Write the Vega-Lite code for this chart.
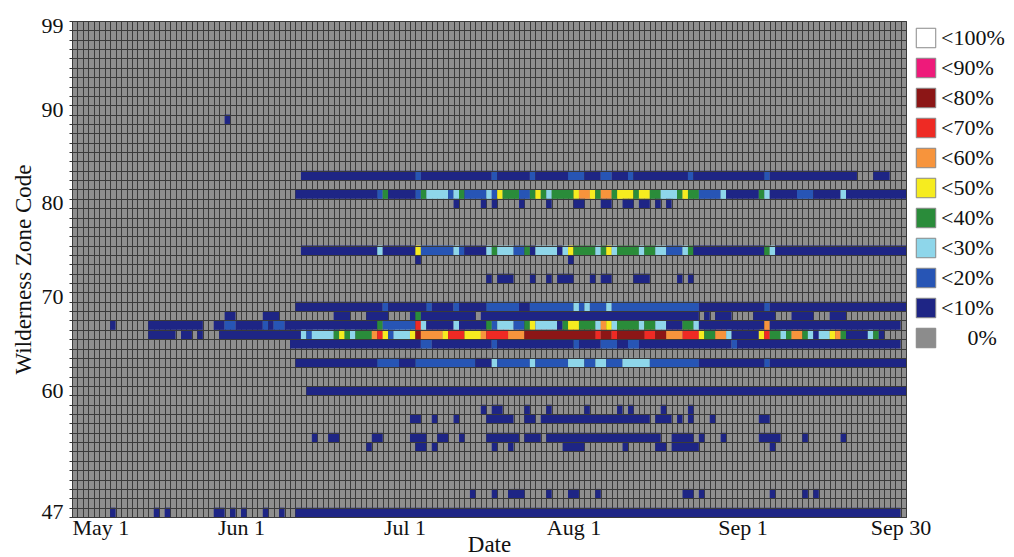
{
"$schema": "https://vega.github.io/schema/vega-lite/v6.json",
"width": 834, "height": 496,
"autosize": {"type": "none"},
"padding": {"left": 72, "top": 21, "right": 108, "bottom": 40},
"background": "white",
"config": {"view": {"fill": "#8e8e8e", "stroke": "#444", "strokeWidth": 1}, "font": "Liberation Serif"},
"data": {"values": [
{"z":89,"s":"2013-05-29","e":"2013-05-30","v":"<10%"},
{"z":83,"s":"2013-06-12","e":"2013-07-03","v":"<10%"},
{"z":83,"s":"2013-07-03","e":"2013-07-04","v":"<20%"},
{"z":83,"s":"2013-07-04","e":"2013-07-17","v":"<10%"},
{"z":83,"s":"2013-07-17","e":"2013-07-18","v":"<20%"},
{"z":83,"s":"2013-07-18","e":"2013-07-24","v":"<10%"},
{"z":83,"s":"2013-07-24","e":"2013-07-25","v":"<20%"},
{"z":83,"s":"2013-07-25","e":"2013-07-31","v":"<10%"},
{"z":83,"s":"2013-07-31","e":"2013-08-03","v":"<20%"},
{"z":83,"s":"2013-08-03","e":"2013-08-06","v":"<10%"},
{"z":83,"s":"2013-08-06","e":"2013-08-08","v":"<20%"},
{"z":83,"s":"2013-08-08","e":"2013-08-11","v":"<10%"},
{"z":83,"s":"2013-08-11","e":"2013-08-12","v":"<20%"},
{"z":83,"s":"2013-08-12","e":"2013-08-22","v":"<10%"},
{"z":83,"s":"2013-08-22","e":"2013-08-23","v":"<20%"},
{"z":83,"s":"2013-08-23","e":"2013-09-05","v":"<10%"},
{"z":83,"s":"2013-09-05","e":"2013-09-06","v":"<20%"},
{"z":83,"s":"2013-09-06","e":"2013-09-22","v":"<10%"},
{"z":83,"s":"2013-09-25","e":"2013-09-28","v":"<10%"},
{"z":81,"s":"2013-06-11","e":"2013-06-26","v":"<10%"},
{"z":81,"s":"2013-06-26","e":"2013-06-27","v":"<20%"},
{"z":81,"s":"2013-06-27","e":"2013-06-28","v":"<40%"},
{"z":81,"s":"2013-06-28","e":"2013-07-03","v":"<10%"},
{"z":81,"s":"2013-07-03","e":"2013-07-04","v":"<20%"},
{"z":81,"s":"2013-07-04","e":"2013-07-05","v":"<40%"},
{"z":81,"s":"2013-07-05","e":"2013-07-09","v":"<30%"},
{"z":81,"s":"2013-07-09","e":"2013-07-10","v":"<20%"},
{"z":81,"s":"2013-07-10","e":"2013-07-11","v":"<30%"},
{"z":81,"s":"2013-07-11","e":"2013-07-12","v":"<40%"},
{"z":81,"s":"2013-07-12","e":"2013-07-16","v":"<20%"},
{"z":81,"s":"2013-07-16","e":"2013-07-17","v":"<30%"},
{"z":81,"s":"2013-07-17","e":"2013-07-18","v":"<20%"},
{"z":81,"s":"2013-07-18","e":"2013-07-19","v":"<50%"},
{"z":81,"s":"2013-07-19","e":"2013-07-22","v":"<40%"},
{"z":81,"s":"2013-07-22","e":"2013-07-24","v":"<20%"},
{"z":81,"s":"2013-07-24","e":"2013-07-25","v":"<40%"},
{"z":81,"s":"2013-07-25","e":"2013-07-26","v":"<50%"},
{"z":81,"s":"2013-07-26","e":"2013-07-27","v":"<40%"},
{"z":81,"s":"2013-07-27","e":"2013-07-28","v":"<30%"},
{"z":81,"s":"2013-07-28","e":"2013-08-01","v":"<40%"},
{"z":81,"s":"2013-08-01","e":"2013-08-02","v":"<50%"},
{"z":81,"s":"2013-08-02","e":"2013-08-04","v":"<60%"},
{"z":81,"s":"2013-08-04","e":"2013-08-05","v":"<50%"},
{"z":81,"s":"2013-08-05","e":"2013-08-06","v":"<40%"},
{"z":81,"s":"2013-08-06","e":"2013-08-08","v":"<60%"},
{"z":81,"s":"2013-08-08","e":"2013-08-09","v":"<40%"},
{"z":81,"s":"2013-08-09","e":"2013-08-12","v":"<50%"},
{"z":81,"s":"2013-08-12","e":"2013-08-13","v":"<40%"},
{"z":81,"s":"2013-08-13","e":"2013-08-15","v":"<50%"},
{"z":81,"s":"2013-08-15","e":"2013-08-17","v":"<40%"},
{"z":81,"s":"2013-08-17","e":"2013-08-20","v":"<30%"},
{"z":81,"s":"2013-08-20","e":"2013-08-21","v":"<40%"},
{"z":81,"s":"2013-08-21","e":"2013-08-22","v":"<50%"},
{"z":81,"s":"2013-08-22","e":"2013-08-24","v":"<40%"},
{"z":81,"s":"2013-08-24","e":"2013-08-28","v":"<20%"},
{"z":81,"s":"2013-08-28","e":"2013-08-29","v":"<30%"},
{"z":81,"s":"2013-08-29","e":"2013-09-04","v":"<10%"},
{"z":81,"s":"2013-09-04","e":"2013-09-05","v":"<40%"},
{"z":81,"s":"2013-09-05","e":"2013-09-06","v":"<30%"},
{"z":81,"s":"2013-09-06","e":"2013-09-11","v":"<10%"},
{"z":81,"s":"2013-09-11","e":"2013-09-14","v":"<20%"},
{"z":81,"s":"2013-09-14","e":"2013-09-19","v":"<10%"},
{"z":81,"s":"2013-09-19","e":"2013-09-20","v":"<30%"},
{"z":81,"s":"2013-09-20","e":"2013-10-01","v":"<10%"},
{"z":80,"s":"2013-07-10","e":"2013-07-11","v":"<10%"},
{"z":80,"s":"2013-07-15","e":"2013-07-16","v":"<10%"},
{"z":80,"s":"2013-07-17","e":"2013-07-18","v":"<10%"},
{"z":80,"s":"2013-07-22","e":"2013-07-23","v":"<10%"},
{"z":80,"s":"2013-07-27","e":"2013-07-28","v":"<10%"},
{"z":80,"s":"2013-08-01","e":"2013-08-03","v":"<10%"},
{"z":80,"s":"2013-08-06","e":"2013-08-08","v":"<10%"},
{"z":80,"s":"2013-08-10","e":"2013-08-12","v":"<10%"},
{"z":80,"s":"2013-08-13","e":"2013-08-15","v":"<10%"},
{"z":80,"s":"2013-08-16","e":"2013-08-17","v":"<10%"},
{"z":80,"s":"2013-08-18","e":"2013-08-19","v":"<10%"},
{"z":75,"s":"2013-06-12","e":"2013-06-26","v":"<10%"},
{"z":75,"s":"2013-06-26","e":"2013-06-27","v":"<30%"},
{"z":75,"s":"2013-06-27","e":"2013-07-03","v":"<10%"},
{"z":75,"s":"2013-07-03","e":"2013-07-04","v":"<50%"},
{"z":75,"s":"2013-07-04","e":"2013-07-10","v":"<20%"},
{"z":75,"s":"2013-07-10","e":"2013-07-11","v":"<30%"},
{"z":75,"s":"2013-07-11","e":"2013-07-12","v":"<20%"},
{"z":75,"s":"2013-07-12","e":"2013-07-16","v":"<10%"},
{"z":75,"s":"2013-07-16","e":"2013-07-17","v":"<30%"},
{"z":75,"s":"2013-07-17","e":"2013-07-18","v":"<40%"},
{"z":75,"s":"2013-07-18","e":"2013-07-21","v":"<30%"},
{"z":75,"s":"2013-07-21","e":"2013-07-23","v":"<20%"},
{"z":75,"s":"2013-07-23","e":"2013-07-24","v":"<40%"},
{"z":75,"s":"2013-07-24","e":"2013-07-25","v":"<10%"},
{"z":75,"s":"2013-07-25","e":"2013-07-29","v":"<30%"},
{"z":75,"s":"2013-07-29","e":"2013-07-30","v":"<10%"},
{"z":75,"s":"2013-07-30","e":"2013-07-31","v":"<30%"},
{"z":75,"s":"2013-07-31","e":"2013-08-01","v":"<50%"},
{"z":75,"s":"2013-08-01","e":"2013-08-05","v":"<40%"},
{"z":75,"s":"2013-08-05","e":"2013-08-06","v":"<30%"},
{"z":75,"s":"2013-08-06","e":"2013-08-07","v":"<40%"},
{"z":75,"s":"2013-08-07","e":"2013-08-08","v":"<50%"},
{"z":75,"s":"2013-08-08","e":"2013-08-09","v":"<30%"},
{"z":75,"s":"2013-08-09","e":"2013-08-13","v":"<40%"},
{"z":75,"s":"2013-08-13","e":"2013-08-14","v":"<30%"},
{"z":75,"s":"2013-08-14","e":"2013-08-16","v":"<40%"},
{"z":75,"s":"2013-08-16","e":"2013-08-18","v":"<30%"},
{"z":75,"s":"2013-08-18","e":"2013-08-21","v":"<20%"},
{"z":75,"s":"2013-08-21","e":"2013-08-22","v":"<30%"},
{"z":75,"s":"2013-08-22","e":"2013-08-23","v":"<40%"},
{"z":75,"s":"2013-08-23","e":"2013-09-05","v":"<10%"},
{"z":75,"s":"2013-09-05","e":"2013-09-06","v":"<40%"},
{"z":75,"s":"2013-09-06","e":"2013-09-07","v":"<30%"},
{"z":75,"s":"2013-09-07","e":"2013-10-01","v":"<10%"},
{"z":74,"s":"2013-07-03","e":"2013-07-04","v":"<10%"},
{"z":74,"s":"2013-07-31","e":"2013-08-01","v":"<10%"},
{"z":72,"s":"2013-07-16","e":"2013-07-17","v":"<10%"},
{"z":72,"s":"2013-07-18","e":"2013-07-21","v":"<10%"},
{"z":72,"s":"2013-07-24","e":"2013-07-25","v":"<10%"},
{"z":72,"s":"2013-07-27","e":"2013-07-28","v":"<10%"},
{"z":72,"s":"2013-07-29","e":"2013-08-01","v":"<10%"},
{"z":72,"s":"2013-08-04","e":"2013-08-05","v":"<10%"},
{"z":72,"s":"2013-08-06","e":"2013-08-08","v":"<10%"},
{"z":72,"s":"2013-08-12","e":"2013-08-15","v":"<10%"},
{"z":72,"s":"2013-08-20","e":"2013-08-21","v":"<10%"},
{"z":72,"s":"2013-08-22","e":"2013-08-23","v":"<10%"},
{"z":69,"s":"2013-06-11","e":"2013-06-27","v":"<10%"},
{"z":69,"s":"2013-06-27","e":"2013-06-28","v":"<20%"},
{"z":69,"s":"2013-06-28","e":"2013-07-05","v":"<10%"},
{"z":69,"s":"2013-07-05","e":"2013-07-06","v":"<20%"},
{"z":69,"s":"2013-07-06","e":"2013-07-10","v":"<10%"},
{"z":69,"s":"2013-07-10","e":"2013-07-11","v":"<20%"},
{"z":69,"s":"2013-07-11","e":"2013-07-16","v":"<10%"},
{"z":69,"s":"2013-07-16","e":"2013-07-22","v":"<20%"},
{"z":69,"s":"2013-07-22","e":"2013-07-24","v":"<10%"},
{"z":69,"s":"2013-07-24","e":"2013-08-01","v":"<20%"},
{"z":69,"s":"2013-08-01","e":"2013-08-02","v":"<30%"},
{"z":69,"s":"2013-08-02","e":"2013-08-03","v":"<20%"},
{"z":69,"s":"2013-08-03","e":"2013-08-04","v":"<30%"},
{"z":69,"s":"2013-08-04","e":"2013-08-07","v":"<20%"},
{"z":69,"s":"2013-08-07","e":"2013-08-08","v":"<30%"},
{"z":69,"s":"2013-08-08","e":"2013-08-24","v":"<20%"},
{"z":69,"s":"2013-08-24","e":"2013-09-05","v":"<10%"},
{"z":69,"s":"2013-09-05","e":"2013-09-06","v":"<20%"},
{"z":69,"s":"2013-09-06","e":"2013-10-01","v":"<10%"},
{"z":68,"s":"2013-05-29","e":"2013-05-31","v":"<10%"},
{"z":68,"s":"2013-06-05","e":"2013-06-08","v":"<10%"},
{"z":68,"s":"2013-06-18","e":"2013-06-21","v":"<10%"},
{"z":68,"s":"2013-06-24","e":"2013-06-28","v":"<10%"},
{"z":68,"s":"2013-07-02","e":"2013-07-03","v":"<10%"},
{"z":68,"s":"2013-07-03","e":"2013-07-04","v":"<40%"},
{"z":68,"s":"2013-07-04","e":"2013-07-14","v":"<10%"},
{"z":68,"s":"2013-07-15","e":"2013-08-24","v":"<10%"},
{"z":68,"s":"2013-08-25","e":"2013-08-26","v":"<10%"},
{"z":68,"s":"2013-08-27","e":"2013-08-30","v":"<10%"},
{"z":68,"s":"2013-09-03","e":"2013-09-07","v":"<10%"},
{"z":68,"s":"2013-09-10","e":"2013-09-14","v":"<10%"},
{"z":68,"s":"2013-09-17","e":"2013-09-20","v":"<10%"},
{"z":67,"s":"2013-05-08","e":"2013-05-09","v":"<10%"},
{"z":67,"s":"2013-05-15","e":"2013-05-25","v":"<10%"},
{"z":67,"s":"2013-05-27","e":"2013-05-29","v":"<10%"},
{"z":67,"s":"2013-05-29","e":"2013-05-31","v":"<20%"},
{"z":67,"s":"2013-05-31","e":"2013-06-05","v":"<10%"},
{"z":67,"s":"2013-06-05","e":"2013-06-06","v":"<20%"},
{"z":67,"s":"2013-06-06","e":"2013-06-07","v":"<10%"},
{"z":67,"s":"2013-06-07","e":"2013-06-09","v":"<20%"},
{"z":67,"s":"2013-06-09","e":"2013-06-26","v":"<10%"},
{"z":67,"s":"2013-06-26","e":"2013-06-27","v":"<40%"},
{"z":67,"s":"2013-06-27","e":"2013-07-03","v":"<20%"},
{"z":67,"s":"2013-07-03","e":"2013-07-04","v":"<70%"},
{"z":67,"s":"2013-07-04","e":"2013-07-05","v":"<30%"},
{"z":67,"s":"2013-07-05","e":"2013-07-10","v":"<10%"},
{"z":67,"s":"2013-07-10","e":"2013-07-11","v":"<30%"},
{"z":67,"s":"2013-07-11","e":"2013-07-16","v":"<10%"},
{"z":67,"s":"2013-07-16","e":"2013-07-17","v":"<40%"},
{"z":67,"s":"2013-07-17","e":"2013-07-18","v":"<20%"},
{"z":67,"s":"2013-07-18","e":"2013-07-21","v":"<30%"},
{"z":67,"s":"2013-07-21","e":"2013-07-23","v":"<20%"},
{"z":67,"s":"2013-07-23","e":"2013-07-24","v":"<40%"},
{"z":67,"s":"2013-07-24","e":"2013-07-25","v":"<50%"},
{"z":67,"s":"2013-07-25","e":"2013-07-29","v":"<30%"},
{"z":67,"s":"2013-07-29","e":"2013-07-30","v":"<10%"},
{"z":67,"s":"2013-07-30","e":"2013-07-31","v":"<40%"},
{"z":67,"s":"2013-07-31","e":"2013-08-02","v":"<50%"},
{"z":67,"s":"2013-08-02","e":"2013-08-05","v":"<40%"},
{"z":67,"s":"2013-08-05","e":"2013-08-06","v":"<30%"},
{"z":67,"s":"2013-08-06","e":"2013-08-07","v":"<60%"},
{"z":67,"s":"2013-08-07","e":"2013-08-08","v":"<50%"},
{"z":67,"s":"2013-08-08","e":"2013-08-09","v":"<30%"},
{"z":67,"s":"2013-08-09","e":"2013-08-13","v":"<40%"},
{"z":67,"s":"2013-08-13","e":"2013-08-14","v":"<30%"},
{"z":67,"s":"2013-08-14","e":"2013-08-16","v":"<40%"},
{"z":67,"s":"2013-08-16","e":"2013-08-18","v":"<30%"},
{"z":67,"s":"2013-08-18","e":"2013-08-21","v":"<10%"},
{"z":67,"s":"2013-08-21","e":"2013-08-23","v":"<40%"},
{"z":67,"s":"2013-08-23","e":"2013-08-24","v":"<30%"},
{"z":67,"s":"2013-08-24","e":"2013-09-05","v":"<10%"},
{"z":67,"s":"2013-09-05","e":"2013-09-06","v":"<60%"},
{"z":67,"s":"2013-09-06","e":"2013-09-30","v":"<10%"},
{"z":66,"s":"2013-05-15","e":"2013-05-20","v":"<10%"},
{"z":66,"s":"2013-05-21","e":"2013-05-23","v":"<10%"},
{"z":66,"s":"2013-05-24","e":"2013-05-25","v":"<10%"},
{"z":66,"s":"2013-05-28","e":"2013-06-12","v":"<10%"},
{"z":66,"s":"2013-06-12","e":"2013-06-13","v":"<30%"},
{"z":66,"s":"2013-06-13","e":"2013-06-14","v":"<20%"},
{"z":66,"s":"2013-06-14","e":"2013-06-18","v":"<30%"},
{"z":66,"s":"2013-06-18","e":"2013-06-19","v":"<40%"},
{"z":66,"s":"2013-06-19","e":"2013-06-20","v":"<50%"},
{"z":66,"s":"2013-06-20","e":"2013-06-21","v":"<40%"},
{"z":66,"s":"2013-06-21","e":"2013-06-22","v":"<30%"},
{"z":66,"s":"2013-06-22","e":"2013-06-25","v":"<40%"},
{"z":66,"s":"2013-06-25","e":"2013-06-26","v":"<60%"},
{"z":66,"s":"2013-06-26","e":"2013-06-27","v":"<70%"},
{"z":66,"s":"2013-06-27","e":"2013-06-28","v":"<50%"},
{"z":66,"s":"2013-06-28","e":"2013-06-29","v":"<20%"},
{"z":66,"s":"2013-06-29","e":"2013-07-02","v":"<30%"},
{"z":66,"s":"2013-07-02","e":"2013-07-03","v":"<50%"},
{"z":66,"s":"2013-07-03","e":"2013-07-04","v":"<80%"},
{"z":66,"s":"2013-07-04","e":"2013-07-08","v":"<60%"},
{"z":66,"s":"2013-07-08","e":"2013-07-09","v":"<50%"},
{"z":66,"s":"2013-07-09","e":"2013-07-12","v":"<70%"},
{"z":66,"s":"2013-07-12","e":"2013-07-15","v":"<50%"},
{"z":66,"s":"2013-07-15","e":"2013-07-16","v":"<60%"},
{"z":66,"s":"2013-07-16","e":"2013-07-20","v":"<70%"},
{"z":66,"s":"2013-07-20","e":"2013-07-23","v":"<60%"},
{"z":66,"s":"2013-07-23","e":"2013-08-05","v":"<80%"},
{"z":66,"s":"2013-08-05","e":"2013-08-06","v":"<70%"},
{"z":66,"s":"2013-08-06","e":"2013-08-08","v":"<80%"},
{"z":66,"s":"2013-08-08","e":"2013-08-09","v":"<70%"},
{"z":66,"s":"2013-08-09","e":"2013-08-14","v":"<80%"},
{"z":66,"s":"2013-08-14","e":"2013-08-16","v":"<70%"},
{"z":66,"s":"2013-08-16","e":"2013-08-18","v":"<80%"},
{"z":66,"s":"2013-08-18","e":"2013-08-21","v":"<60%"},
{"z":66,"s":"2013-08-21","e":"2013-08-24","v":"<70%"},
{"z":66,"s":"2013-08-24","e":"2013-08-25","v":"<50%"},
{"z":66,"s":"2013-08-25","e":"2013-08-27","v":"<40%"},
{"z":66,"s":"2013-08-27","e":"2013-08-29","v":"<60%"},
{"z":66,"s":"2013-08-29","e":"2013-08-30","v":"<30%"},
{"z":66,"s":"2013-08-30","e":"2013-09-04","v":"<10%"},
{"z":66,"s":"2013-09-04","e":"2013-09-05","v":"<50%"},
{"z":66,"s":"2013-09-05","e":"2013-09-06","v":"<70%"},
{"z":66,"s":"2013-09-06","e":"2013-09-08","v":"<40%"},
{"z":66,"s":"2013-09-08","e":"2013-09-09","v":"<30%"},
{"z":66,"s":"2013-09-09","e":"2013-09-10","v":"<40%"},
{"z":66,"s":"2013-09-10","e":"2013-09-12","v":"<60%"},
{"z":66,"s":"2013-09-12","e":"2013-09-13","v":"<40%"},
{"z":66,"s":"2013-09-13","e":"2013-09-14","v":"<30%"},
{"z":66,"s":"2013-09-14","e":"2013-09-15","v":"<10%"},
{"z":66,"s":"2013-09-15","e":"2013-09-17","v":"<30%"},
{"z":66,"s":"2013-09-17","e":"2013-09-18","v":"<50%"},
{"z":66,"s":"2013-09-18","e":"2013-09-19","v":"<60%"},
{"z":66,"s":"2013-09-19","e":"2013-09-20","v":"<40%"},
{"z":66,"s":"2013-09-20","e":"2013-09-24","v":"<10%"},
{"z":66,"s":"2013-09-24","e":"2013-09-25","v":"<30%"},
{"z":66,"s":"2013-09-25","e":"2013-09-26","v":"<40%"},
{"z":66,"s":"2013-09-26","e":"2013-09-27","v":"<10%"},
{"z":65,"s":"2013-06-10","e":"2013-07-04","v":"<10%"},
{"z":65,"s":"2013-07-04","e":"2013-07-06","v":"<20%"},
{"z":65,"s":"2013-07-06","e":"2013-07-17","v":"<10%"},
{"z":65,"s":"2013-07-17","e":"2013-07-18","v":"<20%"},
{"z":65,"s":"2013-07-18","e":"2013-08-01","v":"<10%"},
{"z":65,"s":"2013-08-01","e":"2013-08-02","v":"<20%"},
{"z":65,"s":"2013-08-02","e":"2013-08-06","v":"<10%"},
{"z":65,"s":"2013-08-06","e":"2013-08-09","v":"<20%"},
{"z":65,"s":"2013-08-09","e":"2013-08-11","v":"<10%"},
{"z":65,"s":"2013-08-11","e":"2013-08-13","v":"<20%"},
{"z":65,"s":"2013-08-13","e":"2013-08-30","v":"<10%"},
{"z":65,"s":"2013-08-30","e":"2013-08-31","v":"<20%"},
{"z":65,"s":"2013-08-31","e":"2013-09-30","v":"<10%"},
{"z":63,"s":"2013-06-11","e":"2013-06-26","v":"<10%"},
{"z":63,"s":"2013-06-26","e":"2013-06-30","v":"<20%"},
{"z":63,"s":"2013-06-30","e":"2013-07-03","v":"<10%"},
{"z":63,"s":"2013-07-03","e":"2013-07-14","v":"<20%"},
{"z":63,"s":"2013-07-14","e":"2013-07-17","v":"<10%"},
{"z":63,"s":"2013-07-17","e":"2013-07-18","v":"<30%"},
{"z":63,"s":"2013-07-18","e":"2013-07-24","v":"<20%"},
{"z":63,"s":"2013-07-24","e":"2013-07-25","v":"<30%"},
{"z":63,"s":"2013-07-25","e":"2013-07-31","v":"<20%"},
{"z":63,"s":"2013-07-31","e":"2013-08-03","v":"<30%"},
{"z":63,"s":"2013-08-03","e":"2013-08-05","v":"<20%"},
{"z":63,"s":"2013-08-05","e":"2013-08-07","v":"<30%"},
{"z":63,"s":"2013-08-07","e":"2013-08-10","v":"<20%"},
{"z":63,"s":"2013-08-10","e":"2013-08-15","v":"<30%"},
{"z":63,"s":"2013-08-15","e":"2013-08-24","v":"<20%"},
{"z":63,"s":"2013-08-24","e":"2013-09-05","v":"<10%"},
{"z":63,"s":"2013-09-05","e":"2013-09-06","v":"<20%"},
{"z":63,"s":"2013-09-06","e":"2013-10-01","v":"<10%"},
{"z":60,"s":"2013-06-13","e":"2013-10-01","v":"<10%"},
{"z":58,"s":"2013-07-15","e":"2013-07-16","v":"<10%"},
{"z":58,"s":"2013-07-17","e":"2013-07-19","v":"<10%"},
{"z":58,"s":"2013-07-23","e":"2013-07-24","v":"<10%"},
{"z":58,"s":"2013-07-27","e":"2013-07-28","v":"<10%"},
{"z":58,"s":"2013-08-03","e":"2013-08-04","v":"<10%"},
{"z":58,"s":"2013-08-09","e":"2013-08-10","v":"<10%"},
{"z":58,"s":"2013-08-11","e":"2013-08-12","v":"<10%"},
{"z":58,"s":"2013-08-17","e":"2013-08-18","v":"<10%"},
{"z":58,"s":"2013-08-22","e":"2013-08-23","v":"<10%"},
{"z":57,"s":"2013-07-02","e":"2013-07-04","v":"<10%"},
{"z":57,"s":"2013-07-06","e":"2013-07-07","v":"<10%"},
{"z":57,"s":"2013-07-10","e":"2013-07-11","v":"<10%"},
{"z":57,"s":"2013-07-16","e":"2013-07-21","v":"<10%"},
{"z":57,"s":"2013-07-23","e":"2013-07-25","v":"<10%"},
{"z":57,"s":"2013-07-26","e":"2013-08-15","v":"<10%"},
{"z":57,"s":"2013-08-16","e":"2013-08-19","v":"<10%"},
{"z":57,"s":"2013-08-20","e":"2013-08-21","v":"<10%"},
{"z":57,"s":"2013-08-22","e":"2013-08-23","v":"<10%"},
{"z":57,"s":"2013-08-26","e":"2013-08-27","v":"<10%"},
{"z":57,"s":"2013-09-04","e":"2013-09-06","v":"<10%"},
{"z":55,"s":"2013-06-14","e":"2013-06-15","v":"<10%"},
{"z":55,"s":"2013-06-17","e":"2013-06-19","v":"<10%"},
{"z":55,"s":"2013-06-25","e":"2013-06-27","v":"<10%"},
{"z":55,"s":"2013-07-02","e":"2013-07-05","v":"<10%"},
{"z":55,"s":"2013-07-07","e":"2013-07-09","v":"<10%"},
{"z":55,"s":"2013-07-11","e":"2013-07-12","v":"<10%"},
{"z":55,"s":"2013-07-16","e":"2013-07-22","v":"<10%"},
{"z":55,"s":"2013-07-23","e":"2013-07-26","v":"<10%"},
{"z":55,"s":"2013-07-27","e":"2013-08-17","v":"<10%"},
{"z":55,"s":"2013-08-19","e":"2013-08-23","v":"<10%"},
{"z":55,"s":"2013-08-24","e":"2013-08-25","v":"<10%"},
{"z":55,"s":"2013-08-28","e":"2013-08-29","v":"<10%"},
{"z":55,"s":"2013-09-04","e":"2013-09-08","v":"<10%"},
{"z":55,"s":"2013-09-12","e":"2013-09-13","v":"<10%"},
{"z":55,"s":"2013-09-19","e":"2013-09-20","v":"<10%"},
{"z":54,"s":"2013-06-24","e":"2013-06-25","v":"<10%"},
{"z":54,"s":"2013-07-03","e":"2013-07-05","v":"<10%"},
{"z":54,"s":"2013-07-06","e":"2013-07-07","v":"<10%"},
{"z":54,"s":"2013-07-17","e":"2013-07-18","v":"<10%"},
{"z":54,"s":"2013-07-20","e":"2013-07-21","v":"<10%"},
{"z":54,"s":"2013-07-30","e":"2013-08-03","v":"<10%"},
{"z":54,"s":"2013-08-10","e":"2013-08-11","v":"<10%"},
{"z":54,"s":"2013-08-16","e":"2013-08-18","v":"<10%"},
{"z":54,"s":"2013-08-19","e":"2013-08-24","v":"<10%"},
{"z":54,"s":"2013-09-06","e":"2013-09-07","v":"<10%"},
{"z":49,"s":"2013-07-13","e":"2013-07-14","v":"<10%"},
{"z":49,"s":"2013-07-17","e":"2013-07-18","v":"<10%"},
{"z":49,"s":"2013-07-20","e":"2013-07-23","v":"<10%"},
{"z":49,"s":"2013-07-27","e":"2013-07-28","v":"<10%"},
{"z":49,"s":"2013-07-31","e":"2013-08-02","v":"<10%"},
{"z":49,"s":"2013-08-05","e":"2013-08-06","v":"<10%"},
{"z":49,"s":"2013-08-21","e":"2013-08-23","v":"<10%"},
{"z":49,"s":"2013-08-24","e":"2013-08-25","v":"<10%"},
{"z":49,"s":"2013-09-06","e":"2013-09-07","v":"<10%"},
{"z":49,"s":"2013-09-12","e":"2013-09-13","v":"<10%"},
{"z":49,"s":"2013-09-14","e":"2013-09-15","v":"<10%"},
{"z":47,"s":"2013-05-08","e":"2013-05-09","v":"<10%"},
{"z":47,"s":"2013-05-16","e":"2013-05-17","v":"<10%"},
{"z":47,"s":"2013-05-18","e":"2013-05-19","v":"<10%"},
{"z":47,"s":"2013-05-27","e":"2013-05-29","v":"<10%"},
{"z":47,"s":"2013-05-30","e":"2013-05-31","v":"<10%"},
{"z":47,"s":"2013-06-01","e":"2013-06-02","v":"<10%"},
{"z":47,"s":"2013-06-05","e":"2013-06-06","v":"<10%"},
{"z":47,"s":"2013-06-08","e":"2013-06-09","v":"<10%"},
{"z":47,"s":"2013-06-11","e":"2013-09-30","v":"<10%"}
]},
"layer": [
{
"mark": {"type": "rect"},
"encoding": {
"x": {"field": "s", "type": "temporal",
"scale": {"type": "utc", "nice": false, "domain": [{"year": 2013, "month": 5, "date": 1, "utc": true}, {"year": 2013, "month": 10, "date": 1, "utc": true}]},
"axis": {"orient": "bottom", "grid": true, "gridColor": "#3a3a3a", "gridOpacity": 1, "gridWidth": 1, "labels": false, "ticks": false, "domain": false, "title": null, "tickCount": {"interval": "day", "step": 1}}},
"x2": {"field": "e"},
"y": {"field": "z", "type": "ordinal",
"scale": {"domain": [99,98,97,96,95,94,93,92,91,90,89,88,87,86,85,84,83,82,81,80,79,78,77,76,75,74,73,72,71,70,69,68,67,66,65,64,63,62,61,60,59,58,57,56,55,54,53,52,51,50,49,48,47], "paddingInner": 0, "paddingOuter": 0},
"axis": {"orient": "left", "grid": true, "tickBand": "extent", "gridColor": "#3a3a3a", "gridOpacity": 1, "gridWidth": 1, "labels": false, "ticks": true, "tickSize": 3, "tickColor": "#333", "domain": false, "title": null}},
"color": {"field": "v", "type": "nominal",
"scale": {"domain": ["<100%", "<90%", "<80%", "<70%", "<60%", "<50%", "<40%", "<30%", "<20%", "<10%", "0%"],
"range": ["#ffffff", "#ee1a7a", "#8c1616", "#ee2a24", "#f7943c", "#f6ec1f", "#2a8c3a", "#8ed6ea", "#2755b5", "#1e2585", "#8c8c8c"]},
"legend": {"title": null, "orient": "none", "legendX": 843, "legendY": 6, "padding": 0, "symbolType": "square", "symbolSize": 380, "symbolStrokeColor": "#888", "symbolStrokeWidth": 1, "symbolOpacity": 1, "labelFont": "Liberation Serif", "labelFontSize": 22, "labelColor": "#111", "labelOffset": 4, "rowPadding": 6, "labelExpr": "datum.label == '0%' ? '\u200b\u2003\u20090%' : datum.label"}}
}
},
{
"mark": {"type": "rect", "opacity": 0},
"encoding": {
"x": {"field": "s", "type": "temporal",
"axis": {"orient": "bottom", "grid": false, "ticks": false, "domain": false, "labelOverlap": false, "labelFlush": true,
"values": [{"year": 2013, "month": 5, "date": 1, "utc": true}, {"year": 2013, "month": 6, "date": 1, "utc": true}, {"year": 2013, "month": 7, "date": 1, "utc": true}, {"year": 2013, "month": 8, "date": 1, "utc": true}, {"year": 2013, "month": 9, "date": 1, "utc": true}, {"year": 2013, "month": 9, "date": 30, "utc": true}],
"format": "%b %-d", "labelFont": "Liberation Serif", "labelFontSize": 22, "labelColor": "#111", "labelPadding": 0,
"title": "Date", "titleFont": "Liberation Serif", "titleFontSize": 23, "titleFontWeight": "normal", "titleColor": "#111", "titlePadding": -5}},
"x2": {"field": "e"},
"y": {"field": "z", "type": "ordinal",
"axis": {"orient": "left", "grid": false, "ticks": false, "domain": false, "values": [99, 90, 80, 70, 60, 47],
"labelFont": "Liberation Serif", "labelFontSize": 22, "labelColor": "#111", "labelPadding": 9,
"title": "Wilderness Zone Code", "titleFont": "Liberation Serif", "titleFontSize": 23, "titleFontWeight": "normal", "titleColor": "#111", "titlePadding": 6}}
}
}
],
"resolve": {"axis": {"x": "independent", "y": "independent"}}
}
